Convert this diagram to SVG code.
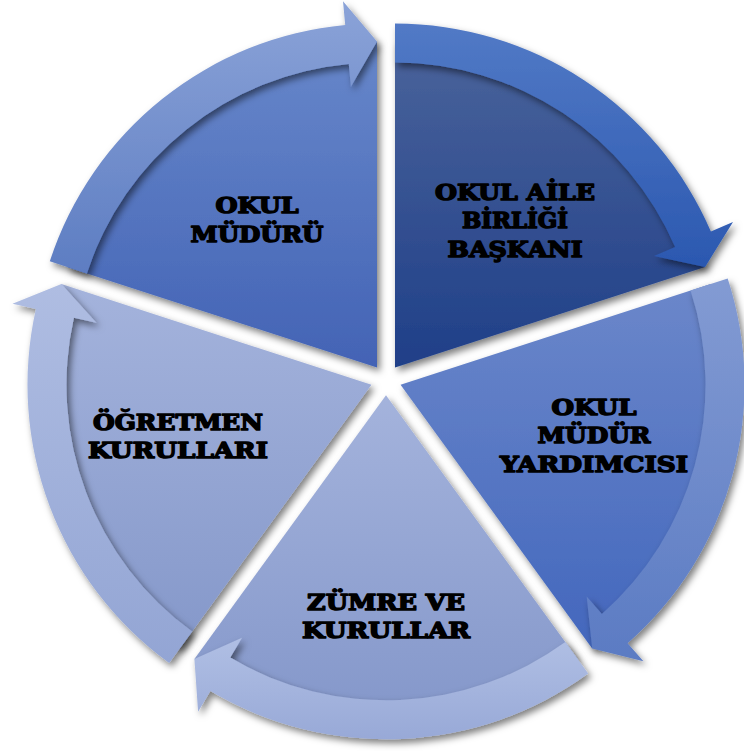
<svg xmlns="http://www.w3.org/2000/svg" width="744" height="751" viewBox="0 0 744 751">
<defs>
<filter id="sh" x="-20%" y="-20%" width="140%" height="140%">
<feDropShadow dx="3" dy="4" stdDeviation="3.5" flood-color="#000" flood-opacity="0.5"/>
</filter>
<linearGradient id="w1" x1="0" y1="0" x2="0" y2="1"><stop offset="0" stop-color="#4a639b"/><stop offset="1" stop-color="#1f3f88"/></linearGradient>
<linearGradient id="a1" x1="0" y1="0" x2="0" y2="1"><stop offset="0" stop-color="#527ac6"/><stop offset="1" stop-color="#2b58b0"/></linearGradient>
<linearGradient id="w2" x1="0" y1="0" x2="0" y2="1"><stop offset="0" stop-color="#6b87ca"/><stop offset="1" stop-color="#4367bd"/></linearGradient>
<linearGradient id="a2" x1="0" y1="0" x2="0" y2="1"><stop offset="0" stop-color="#839bd3"/><stop offset="1" stop-color="#5b7bc3"/></linearGradient>
<linearGradient id="w3" x1="0" y1="0" x2="0" y2="1"><stop offset="0" stop-color="#a4b3dc"/><stop offset="1" stop-color="#8497ca"/></linearGradient>
<linearGradient id="a3" x1="0" y1="0" x2="0" y2="1"><stop offset="0" stop-color="#b0bfe4"/><stop offset="1" stop-color="#98a9d7"/></linearGradient>
<linearGradient id="w4" x1="0" y1="0" x2="0" y2="1"><stop offset="0" stop-color="#a4b3dc"/><stop offset="1" stop-color="#8598ca"/></linearGradient>
<linearGradient id="a4" x1="0" y1="0" x2="0" y2="1"><stop offset="0" stop-color="#afbde2"/><stop offset="1" stop-color="#93a5d4"/></linearGradient>
<linearGradient id="w5" x1="0" y1="0" x2="0" y2="1"><stop offset="0" stop-color="#6787ca"/><stop offset="1" stop-color="#4363b5"/></linearGradient>
<linearGradient id="a5" x1="0" y1="0" x2="0" y2="1"><stop offset="0" stop-color="#8ba3d8"/><stop offset="1" stop-color="#5d7dc2"/></linearGradient>
</defs>
<style>
.wedge{filter:url(#sh);}
.arrow{filter:url(#sh);}
.lbl{font-family:"DejaVu Serif","Liberation Serif",serif;font-weight:bold;font-size:22px;fill:#000;stroke:#000;stroke-width:1.5;stroke-linejoin:round;text-anchor:middle;}
</style>
<rect width="744" height="751" fill="#fff"/>
<g id="node-okul-aile-birligi-baskani">
<path class="wedge" fill="url(#w1)" d="M395,367.6 L395,41.6 A326,326 0 0 1 705.1,266.9 Z"/>
<text class="lbl" x="515" y="200" textLength="160" lengthAdjust="spacingAndGlyphs">OKUL AİLE</text>
<text class="lbl" x="515" y="228" textLength="106" lengthAdjust="spacingAndGlyphs">BİRLİĞİ</text>
<text class="lbl" x="515" y="257" textLength="135" lengthAdjust="spacingAndGlyphs">BAŞKANI</text>
</g>
<g id="node-okul-mudur-yardimcisi">
<path class="wedge" fill="url(#w2)" d="M400.55,384.73 L710.6,284.0 A326,326 0 0 1 592.2,648.5 Z"/>
<text class="lbl" x="594" y="415" textLength="85" lengthAdjust="spacingAndGlyphs">OKUL</text>
<text class="lbl" x="594" y="443" textLength="113" lengthAdjust="spacingAndGlyphs">MÜDÜR</text>
<text class="lbl" x="594" y="472" textLength="188" lengthAdjust="spacingAndGlyphs">YARDIMCISI</text>
</g>
<g id="node-zumre-ve-kurullar">
<path class="wedge" fill="url(#w3)" d="M386,395.3 L577.6,659.0 A326,326 0 0 1 194.4,659.0 Z"/>
<text class="lbl" x="386" y="610" textLength="158" lengthAdjust="spacingAndGlyphs">ZÜMRE VE</text>
<text class="lbl" x="386" y="638" textLength="168" lengthAdjust="spacingAndGlyphs">KURULLAR</text>
</g>
<g id="node-ogretmen-kurullari">
<path class="wedge" fill="url(#w4)" d="M371.45,384.73 L179.8,648.5 A326,326 0 0 1 61.4,284.0 Z"/>
<text class="lbl" x="178" y="430" textLength="170" lengthAdjust="spacingAndGlyphs">ÖĞRETMEN</text>
<text class="lbl" x="178" y="458" textLength="180" lengthAdjust="spacingAndGlyphs">KURULLARI</text>
</g>
<g id="node-okul-muduru">
<path class="wedge" fill="url(#w5)" d="M377,367.6 L66.9,266.9 A326,326 0 0 1 377,41.6 Z"/>
<text class="lbl" x="257" y="213" textLength="83" lengthAdjust="spacingAndGlyphs">OKUL</text>
<text class="lbl" x="257" y="242" textLength="133" lengthAdjust="spacingAndGlyphs">MÜDÜRÜ</text>
</g>
<g id="connectors">
<path class="arrow" fill="url(#a1)" d="M395,23.6 A344,344 0 0 1 710.9,231.5 L733.0,222.1 L705.1,266.9 L654.0,256.1 L675.1,247.0 A305,305 0 0 0 395,62.6 Z"/>
<path class="arrow" fill="url(#a2)" d="M727.7,278.4 A344,344 0 0 1 627.6,643.2 L643.4,661.2 L592.2,648.5 L586.7,596.6 L601.9,613.9 A305,305 0 0 0 690.6,290.5 Z"/>
<path class="arrow" fill="url(#a3)" d="M588.2,673.6 A344,344 0 0 1 210.4,691.1 L198.1,711.7 L194.4,659.0 L242.0,637.8 L230.3,657.6 A305,305 0 0 0 565.3,642.0 Z"/>
<path class="arrow" fill="url(#a4)" d="M169.2,663.0 A344,344 0 0 1 35.9,309.1 L12.5,303.8 L61.4,284.0 L96.4,322.7 L73.9,317.7 A305,305 0 0 0 192.2,631.5 Z"/>
<path class="arrow" fill="url(#a5)" d="M49.8,261.3 A344,344 0 0 1 345.2,25.1 L343.0,1.2 L377,41.6 L350.9,86.8 L348.8,63.9 A305,305 0 0 0 86.9,273.4 Z"/>
</g>
</svg>
